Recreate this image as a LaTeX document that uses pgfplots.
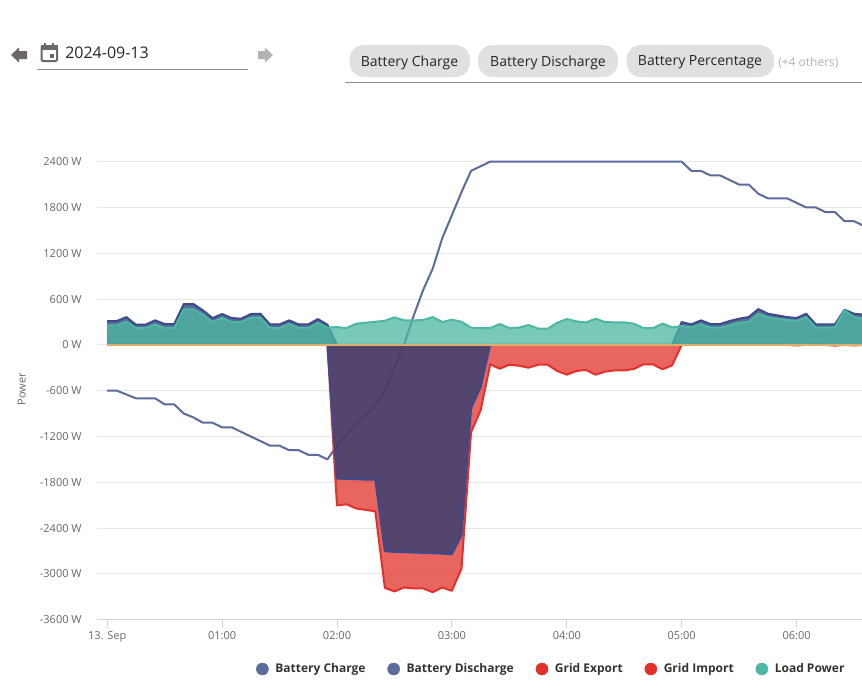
\documentclass[border=0pt]{standalone}
\usepackage{fontspec}
\setmainfont{Open Sans}
\usepackage{pgfplots}
\usepackage{pgfplotstable}
\pgfplotsset{compat=1.18}

\definecolor{linec}{HTML}{5B6B9B}
\definecolor{batfill}{HTML}{233C75}
\definecolor{batline}{HTML}{3A4A8C}
\definecolor{redc}{HTML}{E2312A}
\definecolor{redfill}{HTML}{E2312A}
\definecolor{greenc}{HTML}{4CB7A2}
\definecolor{zeroc}{HTML}{DCAE6A}
\definecolor{tickc}{HTML}{666666}
\definecolor{axisc}{HTML}{CCD6EB}
\definecolor{gridc}{HTML}{E6E6E6}
\definecolor{chipc}{HTML}{E0E0E0}
\definecolor{iconc}{HTML}{6E6666}

% t in minutes, values in W
\pgfplotstableread{
t line batpos batneg gridneg load zero
0 -600 312 0 0 255 0
5 -600 312 0 0 255 0
10 -650 364 0 0 303 0
15 -700 264 0 0 220 0
20 -700 264 0 0 220 0
25 -700 321 0 0 264 0
30 -780 273 0 0 220 0
35 -780 273 0 0 220 0
40 -900 535 0 0 465 0
45 -950 535 0 0 465 0
50 -1020 452 0 0 395 0
55 -1020 351 0 0 299 0
60 -1080 404 0 0 351 0
65 -1080 351 0 0 299 0
70 -1140 343 0 0 299 0
75 -1200 404 0 0 356 0
80 -1260 408 0 0 356 0
85 -1320 268 0 0 220 0
90 -1320 268 0 0 220 0
95 -1380 321 0 0 273 0
100 -1380 268 0 0 220 0
105 -1440 268 0 0 220 0
110 -1440 338 0 0 286 0
115 -1500 264 0 0 225 0
120 -1320 0 -1752 -2104 233 0
125 -1180 0 -1755 -2088 220 0
130 -1030 0 -1760 -2143 277 0
135 -920 0 -1765 -2162 290 0
140 -790 0 -1765 -2180 303 0
145 -600 0 -2704 -3183 316 0
150 -300 0 -2711 -3230 360 0
155 0 0 -2715 -3178 321 0
160 380 0 -2720 -3190 321 0
165 720 0 -2724 -3190 325 0
170 1000 0 -2728 -3240 364 0
175 1400 0 -2735 -3178 299 0
180 1700 0 -2743 -3222 329 0
185 2000 0 -2494 -2930 303 0
190 2280 0 -830 -1145 225 0
195 2340 0 -552 -857 220 0
200 2400 0 0 -255 220 0
205 2400 0 0 -312 273 0
210 2400 0 0 -260 220 0
215 2400 0 0 -273 225 0
220 2400 0 0 -299 260 0
225 2400 0 0 -260 212 0
230 2400 0 0 -260 212 0
235 2400 0 0 -342 290 0
240 2400 0 0 -390 338 0
245 2400 0 0 -342 308 0
250 2400 0 0 -329 294 0
255 2400 0 0 -390 342 0
260 2400 0 0 -351 299 0
265 2400 0 0 -334 295 0
270 2400 0 0 -334 295 0
275 2400 0 0 -316 278 0
280 2400 0 0 -255 220 0
285 2400 0 0 -255 220 0
290 2400 0 0 -320 278 0
295 2400 0 0 -268 229 0
300 2400 299 0 0 246 0
305 2280 268 0 0 229 0
310 2280 321 0 0 268 0
315 2220 273 0 0 225 0
320 2220 273 0 0 225 0
325 2160 312 0 0 255 0
330 2100 343 0 0 290 0
335 2100 364 0 0 303 0
340 1980 469 0 0 408 0
345 1920 408 0 0 360 0
350 1920 386 0 0 342 0
355 1920 364 0 0 325 0
360 1860 351 0 -8 316 0
365 1800 408 0 0 364 0
370 1800 268 0 0 225 0
375 1740 268 0 0 225 0
380 1740 268 0 -10 229 0
385 1620 460 0 0 452 0
390 1620 408 0 -8 364 0
395 1560 395 0 0 342 0
}\power

\begin{document}
\begin{tikzpicture}
\path[use as bounding box] (0pt,0pt) rectangle (646.5pt,-517.5pt);

% page header (date picker and chips)
\begin{scope}[x=0.75pt,y=-0.75pt]
  \fill[iconc] (11,55) -- (19,47.5) -- (19,51) -- (27,51) -- (27,59) -- (19,59) -- (19,62.5) -- cycle;
  \fill[black!30] (273,55) -- (265,47.5) -- (265,51) -- (258,51) -- (258,59) -- (265,59) -- (265,62.5) -- cycle;
  \draw[iconc,line width=1.5pt,rounded corners=1pt] (41.5,46) rectangle (57,61);
  \fill[iconc] (41,45) rectangle (57.5,50);
  \fill[iconc] (44,42.5) rectangle (46,46);
  \fill[iconc] (52,42.5) rectangle (54,46);
  \fill[iconc] (49.5,54) rectangle (53.5,58);
  \node[anchor=west,inner sep=0pt,font=\fontsize{12pt}{14pt}\selectfont,text=black!85] at (65,53) {2024-09-13};
  \draw[black!45,line width=0.8pt] (37,69.5) -- (248,69.5);
  \fill[chipc,rounded corners=11pt] (349.5,45) rectangle (470,77);
  \fill[chipc,rounded corners=11pt] (478,45) rectangle (618,77);
  \fill[chipc,rounded corners=11pt] (626.5,45) rectangle (774,77);
  \node[inner sep=0pt,font=\fontsize{10.5pt}{13pt}\selectfont,text=black!85] at (409.5,62.5) {Battery Charge};
  \node[inner sep=0pt,font=\fontsize{10.5pt}{13pt}\selectfont,text=black!85] at (548,62.5) {Battery Discharge};
  \node[inner sep=0pt,font=\fontsize{10.5pt}{13pt}\selectfont,text=black!85] at (700,62.5) {Battery Percentage};
  \node[anchor=west,inner sep=0pt,font=\fontsize{9pt}{11pt}\selectfont,text=black!30] at (778,62.5) {(+4 others)};
  \draw[black!45,line width=0.8pt] (345,82.5) -- (862,82.5);
\end{scope}

\begin{axis}[
    at={(72.5pt,-464.75pt)},
    anchor=south west,
    scale only axis,
    width=574pt,
    height=345.8pt,
    xmin=-5.5, xmax=394.15,
    ymin=-3600, ymax=2440,
    xtick={0,60,120,180,240,300,360},
    xticklabels={13. Sep,01:00,02:00,03:00,04:00,05:00,06:00},
    ytick={-3600,-3000,-2400,-1800,-1200,-600,0,600,1200,1800,2400},
    yticklabels={-3600 W,-3000 W,-2400 W,-1800 W,-1200 W,-600 W,0 W,600 W,1200 W,1800 W,2400 W},
    ymajorgrids,
    grid style={gridc,line width=0.75pt},
    axis x line*=bottom,
    axis y line*=left,
    x axis line style={axisc,line width=0.75pt,-},
    y axis line style={draw=none},
    xtick style={axisc,line width=0.75pt},
    ytick style={draw=none},
    tick align=outside,
    major tick length=6pt,
    ylabel={Power},
    ylabel style={font=\fontsize{8.25pt}{10pt}\selectfont,text=tickc,at={(axis description cs:-0.098,0.5)},anchor=center},
    tick label style={font=\fontsize{8.25pt}{10pt}\selectfont,text=tickc},
    yticklabel style={xshift=-1.75pt},
    xticklabel style={yshift=0.5pt},
    legend columns=-1,
    legend style={
        at={(0.981,-0.107)},anchor=east,draw=none,fill=none,
        font=\fontsize{9pt}{11pt}\bfseries\selectfont,text=black!80,
        inner sep=0pt,
        /tikz/every odd column/.style={column sep=3pt},
        /tikz/every even column/.style={column sep=14.4pt},
    },
    legend image code/.code={\fill[#1] (0pt,0pt) circle (4.5pt);},
    every axis plot/.append style={line join=round},
]

\addlegendimage{linec}
\addlegendentry{Battery Charge}
\addlegendimage{linec}
\addlegendentry{Battery Discharge}
\addlegendimage{redc}
\addlegendentry{Grid Export}
\addlegendimage{redc}
\addlegendentry{Grid Import}
\addlegendimage{greenc}
\addlegendentry{Load Power}

% thin line sits under the areas
\addplot[forget plot,linec,line width=1.5pt] table[x=t,y=line] {\power};

% grid import
\addplot[forget plot,draw=none,fill=redfill,fill opacity=0.75] table[x=t,y=gridneg] {\power} \closedcycle;
\addplot[forget plot,redc,line width=1.5pt] table[x=t,y=gridneg] {\power};

% battery, above and below zero
\addplot[forget plot,draw=none,fill=batfill,fill opacity=0.75] table[x=t,y=batneg] {\power} \closedcycle;
\addplot[forget plot,batline,line width=1.5pt] table[x=t,y=batneg] {\power};
\addplot[forget plot,draw=none,fill=batfill,fill opacity=0.75] table[x=t,y=batpos] {\power} \closedcycle;
\addplot[forget plot,batline,line width=1.5pt] table[x=t,y=batpos] {\power};

% load power
\addplot[forget plot,draw=none,fill=greenc,fill opacity=0.75] table[x=t,y=load] {\power} \closedcycle;
\addplot[forget plot,greenc,line width=1.5pt] table[x=t,y=load] {\power};

% grid export stays at zero
\addplot[forget plot,zeroc,line width=1.5pt] table[x=t,y=zero] {\power};

\end{axis}
\end{tikzpicture}
\end{document}
